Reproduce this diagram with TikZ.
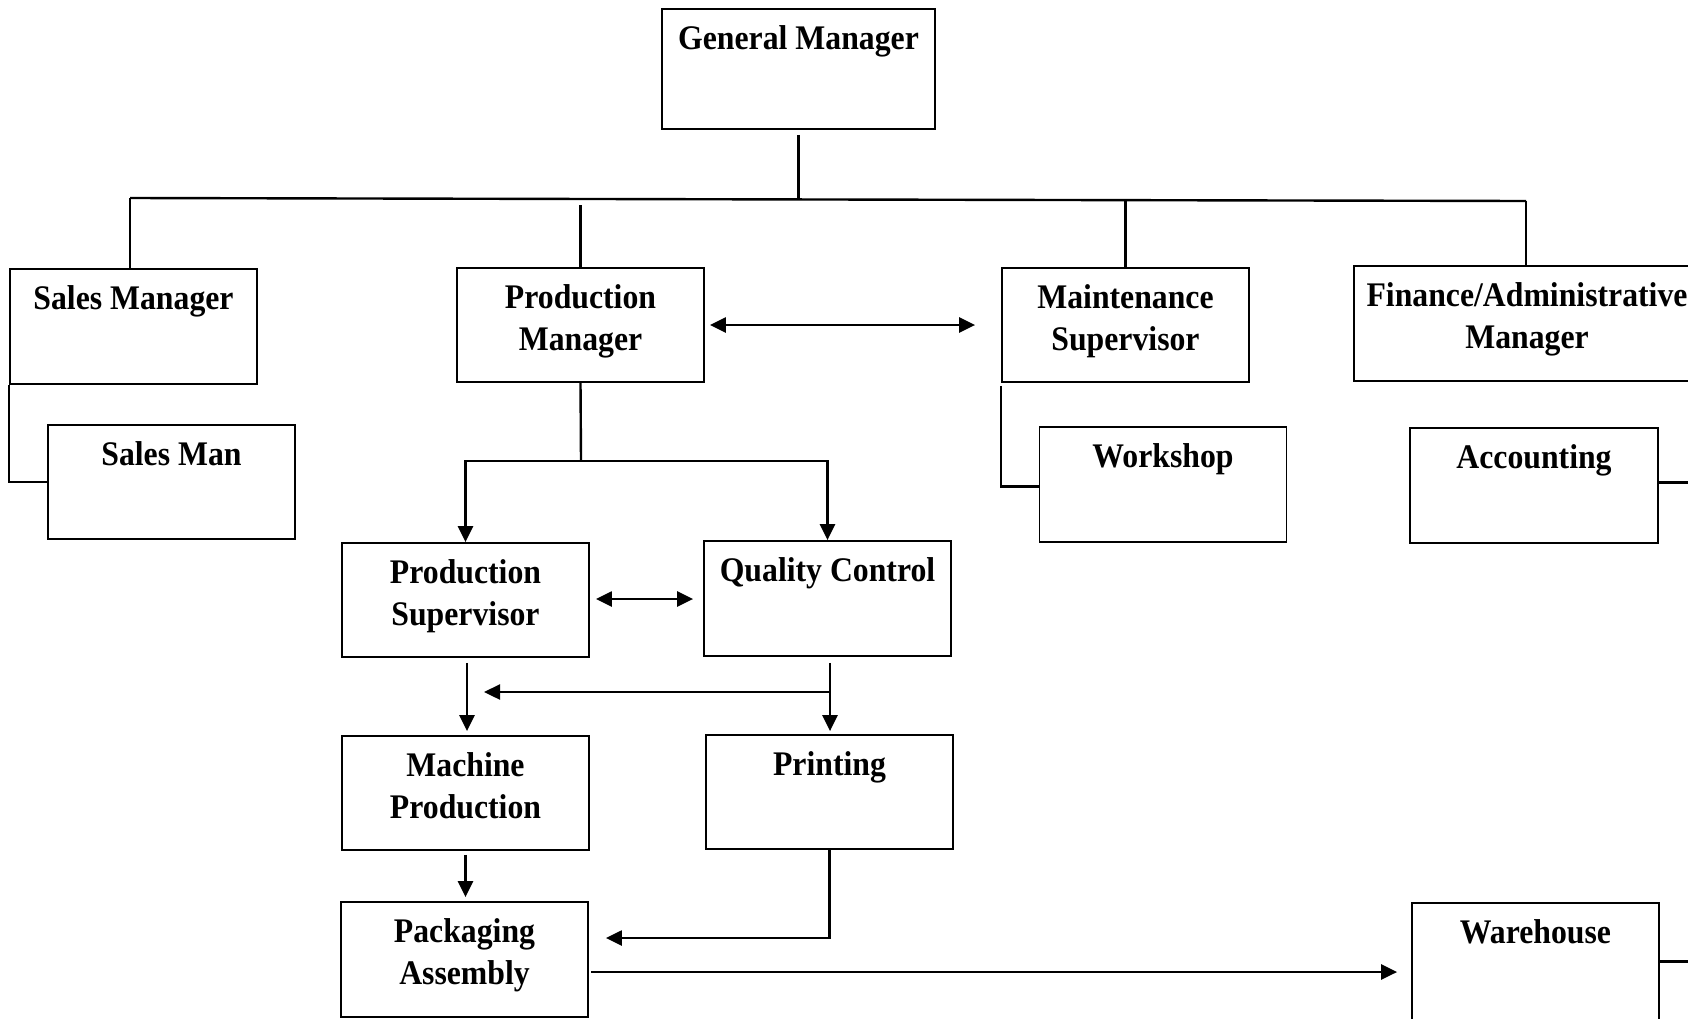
\documentclass[tikz,border=0pt]{standalone}
\usepackage{fontspec}
\setmainfont{Liberation Serif}[FakeStretch=0.92]
\usetikzlibrary{arrows.meta}
\begin{document}
\begin{tikzpicture}[x=1pt,y=-1pt,
  box/.style={draw, line width=1.8pt, inner sep=0pt, minimum width=247pt, minimum height=114pt},
  lbl/.style={anchor=north, inner sep=0pt, align=center, font=\fontsize{34.5pt}{42pt}\selectfont\bfseries},
  link/.style={line width=2.4pt},
  arr/.style={link, -{Triangle[length=16pt,width=15pt]}},
  darr/.style={link, {Triangle[length=16pt,width=15pt]}-{Triangle[length=16pt,width=15pt]}},
]
\useasboundingbox (0,0) rectangle (1688,1018);
\clip (0,0) rectangle (1688,1018);

% boxes
\node[box, minimum width=273pt, minimum height=120pt] (gm) at (798.5,69) {};
\node[box, minimum height=115pt] (sm)  at (133.5,326.5) {};
\node[box] (pm)  at (580.5,325) {};
\node[box] (ms)  at (1125.5,325) {};
\node[box, minimum width=346pt, minimum height=115pt] (fa) at (1527,323.5) {};
\node[box] (sman) at (171.5,482) {};
\node[box, minimum height=115pt] (ws)  at (1163,484.5) {};
\node[box, minimum width=248pt, minimum height=115pt] (acc) at (1534,485.5) {};
\node[box] (ps)  at (465.5,600) {};
\node[box, minimum height=115pt] (qc)  at (827.5,598.5) {};
\node[box] (mp)  at (465.5,793) {};
\node[box] (pr)  at (829.5,792) {};
\node[box, minimum height=115pt] (pa)  at (464.5,959.5) {};
\node[box, minimum height=117pt] (wh)  at (1535.5,961.5) {};

% labels, set near the top of each box
\node[lbl] (gm-t)   at ([yshift=-17pt]gm.north)   {General Manager};
\node[lbl] (sm-t)   at ([yshift=-17pt]sm.north)   {Sales Manager};
\node[lbl] (pm-t)   at ([yshift=-17pt]pm.north)   {Production\\Manager};
\node[lbl] (ms-t)   at ([yshift=-17pt]ms.north)   {Maintenance\\Supervisor};
\node[lbl] (fa-t)   at ([yshift=-17pt]fa.north)   {Finance/Administrative\\Manager};
\node[lbl] (sman-t) at ([yshift=-17pt]sman.north) {Sales Man};
\node[lbl] (ws-t)   at ([yshift=-17pt]ws.north)   {Workshop};
\node[lbl] (acc-t)  at ([yshift=-17pt]acc.north)  {Accounting};
\node[lbl] (ps-t)   at ([yshift=-17pt]ps.north)   {Production\\Supervisor};
\node[lbl] (qc-t)   at ([yshift=-17pt]qc.north)   {Quality Control};
\node[lbl] (mp-t)   at ([yshift=-17pt]mp.north)   {Machine\\Production};
\node[lbl] (pr-t)   at ([yshift=-17pt]pr.north)   {Printing};
\node[lbl] (pa-t)   at ([yshift=-17pt]pa.north)   {Packaging\\Assembly};
\node[lbl] (wh-t)   at ([yshift=-17pt]wh.north)   {Warehouse};

% junction points
\coordinate (busL) at (130,198);
\coordinate (busR) at (1526,201);
\coordinate (edgeR) at (1700,0);
\coordinate (pmj) at (581,461);
\coordinate (qcj) at (830,692);
\coordinate (msIn) at (484,692);
\coordinate (paOut) at (591,972);

% top level tree
\draw[link] ([yshift=-5pt]gm.south) -- (gm.south |- 0,200);
\draw[link] (busL) -- (busR);
\draw[link] (busL) -- (busL |- sm.north);
\draw[link] ([yshift=-6pt]pm.north |- 0,199) -- (pm.north);
\draw[link] (ms.north |- 0,201) -- (ms.north);
\draw[link] (busR) -- (busR |- fa.north);

% side branches
\draw[link] (sm.south west) |- (sman.west);
\draw[link] ([yshift=-3pt]ms.south west) |- ([yshift=-2pt]ws.west);
\draw[link] ([yshift=3pt]acc.east) -- ([yshift=3pt]acc.east -| edgeR);
\draw[link] (wh.east) -- (wh.east -| edgeR);

% production flow
\draw[darr] ([xshift=5pt]pm.east) -- ([xshift=-26pt]ms.west);
\draw[link] (pm.south) -- (pmj);
\draw[arr] (pmj) -| (ps.north);
\draw[arr] (pmj) -| (qc.north);
\draw[darr] ([xshift=6pt]ps.south east |- 0,599) -- ([xshift=-10pt]qc.south west |- 0,599);
\draw[arr] ([xshift=1.5pt,yshift=-5pt]ps.south) -- ([xshift=1.5pt,yshift=4pt]ps.south |- mp.north);
\draw[arr] ([yshift=-6pt]qcj |- qc.south) -- ([yshift=3pt]qcj |- pr.north);
\draw[arr] (qcj) -- (msIn);
\draw[arr] ([yshift=-4pt]mp.south) -- ([yshift=4pt]mp.south |- pa.north);
\draw[arr] (pr.south) |- ([xshift=17pt,yshift=21.5pt]pa.east);
\draw[arr, shorten >=14pt] (paOut) -- (paOut -| wh.west);
\end{tikzpicture}
\end{document}
